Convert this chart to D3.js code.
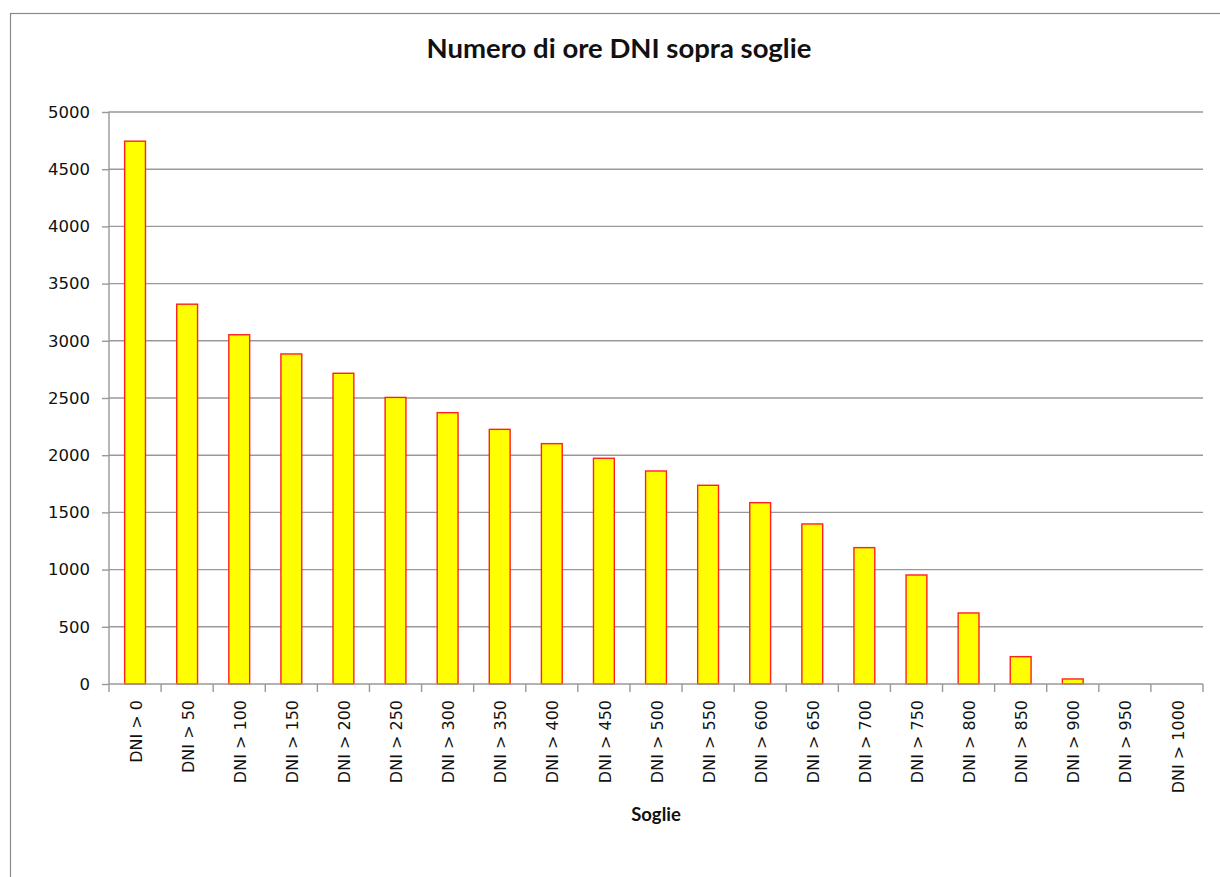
<!DOCTYPE html>
<html>
<head>
<meta charset="utf-8">
<script src="https://cdn.jsdelivr.net/npm/d3@7"></script>
<style>
  html, body { margin: 0; padding: 0; background: #fff; }
  svg { display: block; }
</style>
</head>
<body>
<svg id="chart" width="1220" height="877"></svg>
<script>
const categories = ["DNI > 0","DNI > 50","DNI > 100","DNI > 150","DNI > 200","DNI > 250","DNI > 300","DNI > 350","DNI > 400","DNI > 450","DNI > 500","DNI > 550","DNI > 600","DNI > 650","DNI > 700","DNI > 750","DNI > 800","DNI > 850","DNI > 900","DNI > 950","DNI > 1000"];
const hours = [4745, 3320, 3053, 2885, 2716, 2505, 2372, 2226, 2101, 1973, 1862, 1737, 1585, 1399, 1192, 953, 621, 239, 44, 0, 0];
const yTicks = [0, 500, 1000, 1500, 2000, 2500, 3000, 3500, 4000, 4500, 5000];
const titleText = "Numero di ore DNI sopra soglie";
const xTitle = "Soglie";

const svg = d3.select("#chart");
const m = { left: 109, right: 1203, top: 112, bottom: 684 };
const gridColor = "#999";

// chart area border
svg.append("rect")
  .attr("x", 10.5).attr("y", 13.5)
  .attr("width", 1300).attr("height", 1000)
  .attr("fill", "#fff").attr("stroke", "#8a8a8a").attr("stroke-width", 1.2);

const x = d3.scaleBand().domain(categories).range([m.left, m.right]).paddingInner(0).paddingOuter(0);
const y = d3.scaleLinear().domain([0, 5000]).range([m.bottom, m.top]);

// gridlines
svg.append("g")
  .selectAll("line").data(yTicks.filter(d => d > 0)).join("line")
  .attr("x1", m.left).attr("x2", m.right)
  .attr("y1", d => y(d)).attr("y2", d => y(d))
  .attr("stroke", gridColor).attr("stroke-width", 1.4);

// bars
const bw = x.bandwidth() * 0.4;
svg.append("g")
  .selectAll("rect").data(categories.map((c, i) => ({ c, v: hours[i] })).filter(d => d.v > 0)).join("rect")
  .attr("x", d => x(d.c) + (x.bandwidth() - bw) / 2)
  .attr("y", d => y(d.v))
  .attr("width", bw)
  .attr("height", d => y(0) - y(d.v))
  .attr("fill", "#ffff00")
  .attr("stroke", "#ff2020")
  .attr("stroke-width", 1.4);

// y axis
const yAxis = d3.axisLeft(y).tickValues(yTicks).tickSize(7).tickPadding(12).tickFormat(d3.format("d"));
const gy = svg.append("g").attr("transform", `translate(${m.left},0)`).call(yAxis);
gy.select(".domain").attr("stroke", gridColor).attr("stroke-width", 1.4).attr("d", `M0,${m.top - 0.5}V${m.bottom}`);
gy.selectAll(".tick line").attr("stroke", gridColor).attr("stroke-width", 1.4);
gy.selectAll(".tick text")
  .attr("fill", "#111")
  .style("font-family", "'DejaVu Sans', sans-serif")
  .style("font-size", "16.5px");

// x axis: ticks on category boundaries
const boundaries = categories.map(c => x(c)).concat([m.right]);
svg.append("line")
  .attr("x1", m.left).attr("x2", m.right)
  .attr("y1", m.bottom).attr("y2", m.bottom)
  .attr("stroke", gridColor).attr("stroke-width", 1.4);
svg.append("g").selectAll("line").data(boundaries).join("line")
  .attr("x1", d => d).attr("x2", d => d)
  .attr("y1", m.bottom).attr("y2", m.bottom + 8)
  .attr("stroke", gridColor).attr("stroke-width", 1.4);

svg.append("g").selectAll("text").data(categories).join("text")
  .attr("transform", d => `translate(${x(d) + x.bandwidth() / 2 + 1},${m.bottom + 16}) rotate(-90)`)
  .attr("text-anchor", "end")
  .attr("dy", "0.35em")
  .attr("fill", "#111")
  .style("font-family", "'DejaVu Sans', sans-serif")
  .style("font-size", "16px")
  .text(d => d);

// titles
svg.append("text")
  .attr("x", 619).attr("y", 58)
  .attr("text-anchor", "middle")
  .attr("fill", "#111")
  .style("font-family", "Lato, 'Open Sans', sans-serif")
  .style("font-weight", "bold")
  .style("font-size", "27.5px")
  .text(titleText);

svg.append("text")
  .attr("x", (m.left + m.right) / 2).attr("y", 821)
  .attr("text-anchor", "middle")
  .attr("fill", "#111")
  .style("font-family", "Lato, 'Open Sans', sans-serif")
  .style("font-weight", "bold")
  .style("font-size", "18.5px")
  .text(xTitle);
</script>
</body>
</html>
